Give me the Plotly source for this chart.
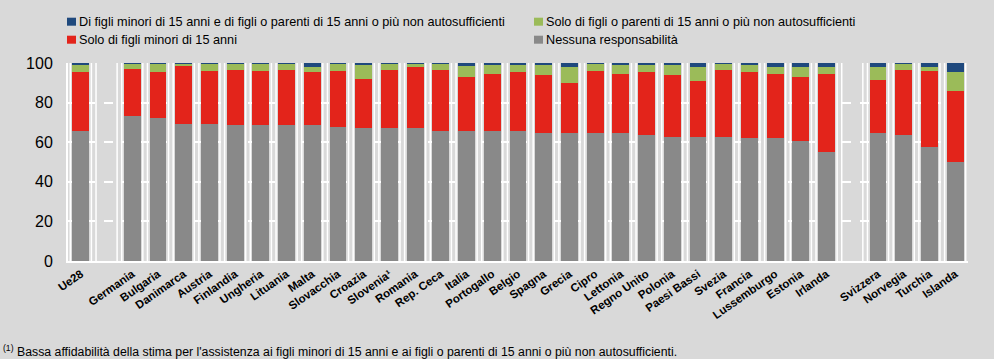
import plotly.graph_objects as go

categories = ["Ue28", " ", "Germania", "Bulgaria", "Danimarca", "Austria", "Finlandia", "Ungheria",
              "Lituania", "Malta", "Slovacchia", "Croazia", "Slovenia¹", "Romania", "Rep. Ceca",
              "Italia", "Portogallo", "Belgio", "Spagna", "Grecia", "Cipro", "Lettonia",
              "Regno Unito", "Polonia", "Paesi Bassi", "Svezia", "Francia", "Lussemburgo",
              "Estonia", "Irlanda", "  ", "Svizzera", "Norvegia", "Turchia", "Islanda"]

# Values per category (None for spacer slots)
nessuna = [65.7, None, 73.0, 72.1, 69.3, 69.3, 68.6, 68.6, 68.6, 68.6, 67.9, 67.1, 67.1, 67.1, 65.7,
           65.7, 65.7, 65.7, 64.9, 64.9, 64.9, 64.9, 63.5, 62.5, 62.5, 62.5, 62.0, 62.0, 60.6, 55.2,
           None, 64.9, 63.5, 57.4, 50.2]
solo_minori = [29.6, None, 24.1, 23.2, 29.5, 26.5, 28.0, 27.2, 28.0, 26.7, 27.9, 25.0, 29.5, 30.9, 30.9,
               27.0, 28.7, 29.6, 28.9, 25.1, 30.9, 29.5, 31.8, 31.3, 28.2, 34.1, 33.3, 32.4, 32.1, 39.2,
               None, 26.7, 33.1, 38.4, 35.9]
solo_parenti = [3.5, None, 2.6, 4.5, 0.9, 4.0, 3.2, 4.0, 3.1, 2.8, 3.9, 6.9, 3.1, 1.7, 3.1,
                5.9, 4.4, 3.5, 5.0, 8.1, 4.0, 4.4, 3.5, 5.0, 7.4, 3.1, 3.5, 3.7, 5.4, 3.7,
                None, 6.5, 3.1, 2.3, 9.2]
entrambi = [1.2, None, 0.3, 0.2, 0.3, 0.2, 0.2, 0.2, 0.3, 1.9, 0.3, 1.0, 0.3, 0.3, 0.3,
            1.4, 1.2, 1.2, 1.2, 1.9, 0.2, 1.2, 1.2, 1.2, 1.9, 0.3, 1.2, 1.9, 1.9, 1.9,
            None, 1.9, 0.3, 1.9, 4.7]
y_ticks = [0, 20, 40, 60, 80, 100]

# (name, values, colour); stacking order bottom -> top
series = [
    ("Nessuna responsabilità", nessuna, "#898989"),
    ("Solo di figli minori di 15 anni", solo_minori, "#e3241b"),
    ("Solo di figli o parenti di 15 anni o più non autosufficienti", solo_parenti, "#9bbb59"),
    ("Di figli minori di 15 anni e di figli o parenti di 15 anni o più non autosufficienti", entrambi, "#1f497d"),
]
# legend slots (column, row) for each series, same order as above
legend_slots = [(1, 1), (0, 1), (1, 0), (0, 0)]

FONT = "Liberation Sans, Arial, sans-serif"
BG = "#d9d9d9"
W, H = 994, 359
ML, MR, MT, MB = 68, 26, 63, 98
PW, PH = W - ML - MR, H - MT - MB


def px_x(x):
    return (x - ML) / PW


def px_y(y):
    return (H - MB - y) / PH


fig = go.Figure()
for name, vals, color in series:
    fig.add_trace(go.Bar(x=categories, y=vals, name=name, showlegend=False,
                         marker=dict(color=color, line=dict(width=0))))

# white vertical separators flanking each category slot
shapes = []
for i, c in enumerate(categories):
    for dx in (-0.41, 0.41):
        shapes.append(dict(type="line", xref="x", yref="y", x0=i + dx, x1=i + dx, y0=0, y1=100,
                           line=dict(color="white", width=1.5), layer="below"))

# manual two-column legend
annotations = []
col_x = [67, 534]
row_y = [21.7, 39.7]
for (name, vals, color), (col, row) in zip(series, legend_slots):
    x0 = col_x[col]
    yc = row_y[row]
    shapes.append(dict(type="rect", xref="paper", yref="paper",
                       x0=px_x(x0), x1=px_x(x0 + 9), y0=px_y(yc + 4), y1=px_y(yc - 4),
                       fillcolor=color, line=dict(width=0)))
    annotations.append(dict(text=name, xref="paper", yref="paper", x=px_x(x0 + 10), y=px_y(yc),
                            xanchor="left", yanchor="middle", showarrow=False,
                            font=dict(size=12.7, family=FONT, color="#000")))

annotations.append(dict(
    text="<sup>(1)</sup> Bassa affidabilità della stima per l'assistenza ai figli minori di 15 anni e ai figli o parenti di 15 anni o più non autosufficienti.",
    xref="paper", yref="paper", x=px_x(1), y=px_y(351), xanchor="left", yanchor="middle",
    showarrow=False, font=dict(size=12.3, family=FONT, color="#000")))

fig.update_layout(
    barmode="stack",
    bargap=0.34,
    width=W, height=H,
    paper_bgcolor=BG, plot_bgcolor=BG,
    margin=dict(l=ML, r=MR, t=MT, b=MB, autoexpand=False),
    font=dict(family=FONT, color="#000000", size=13),
    shapes=shapes,
    annotations=annotations,
    showlegend=False,
    xaxis=dict(type="category", categoryorder="array", categoryarray=categories,
               range=[-0.5, len(categories) - 0.5], tickangle=-35, showgrid=False,
               tickfont=dict(size=11.5, family=FONT, color="#000"), ticks="", showline=True,
               linecolor="white", linewidth=2, automargin=False),
    yaxis=dict(range=[0, 100], tickvals=y_ticks, showgrid=True, gridcolor="white", griddash="dash",
               gridwidth=1.5, tickfont=dict(size=16, family=FONT), showline=True, linecolor="white",
               linewidth=2, zeroline=False, ticks="", ticklabelstandoff=10, automargin=False),
)

fig.update_xaxes(tickvals=[c for c in categories if c.strip()],
                 ticktext=["<b>" + c + "</b>" for c in categories if c.strip()])

fig.write_html("out.html", config={"displayModeBar": False},
               post_script="document.body.style.margin='0';document.body.style.background='#d9d9d9';")
